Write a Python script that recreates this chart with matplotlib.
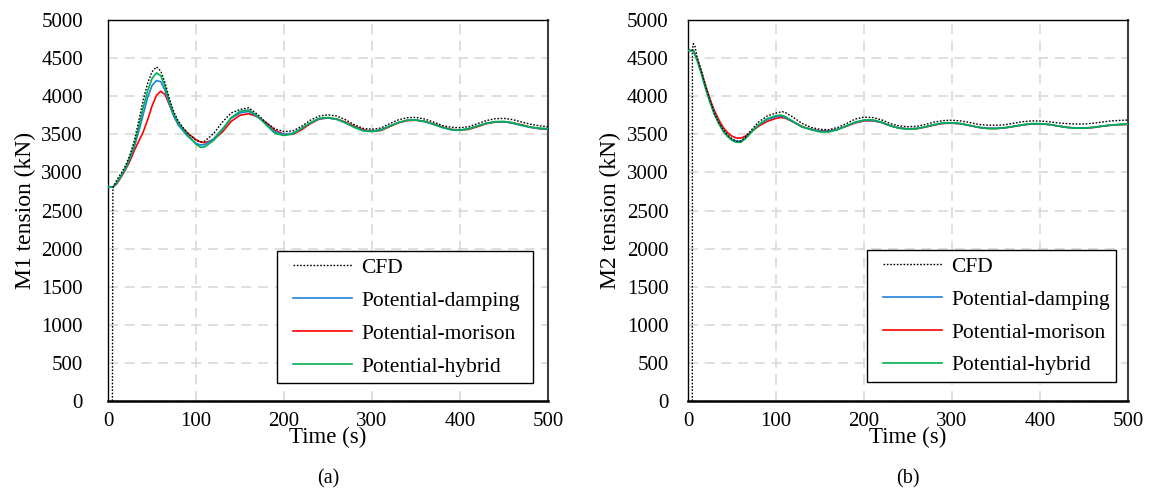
import numpy as np
import matplotlib
matplotlib.use("Agg")
import matplotlib.pyplot as plt
from matplotlib.lines import Line2D
from matplotlib.legend_handler import HandlerLine2D

plt.rcParams['font.family'] = ['Liberation Serif', 'DejaVu Serif']

# ---- data (time in s, tension in kN) ----
t_pot = [0, 6, 10, 15, 20, 25, 30, 35, 40, 45, 50, 55, 60, 65, 70, 75, 80, 90, 100, 105, 110,
         120, 130, 140, 150, 160, 170, 180, 190, 200, 210, 220, 230, 240, 250, 260, 270, 280,
         290, 300, 310, 320, 330, 340, 350, 360, 370, 380, 390, 400, 410, 420, 430, 440, 450,
         460, 470, 480, 490, 500]

# panel (a): M1
m1_damping = [2810, 2810, 2860, 2950, 3050, 3180, 3340, 3540, 3760, 3980, 4140, 4205, 4190, 4070,
              3890, 3730, 3620, 3480, 3380, 3360, 3365, 3440, 3570, 3710, 3780, 3800, 3730,
              3630, 3530, 3500, 3515, 3580, 3650, 3705, 3715, 3695, 3650, 3595, 3550, 3540,
              3560, 3610, 3655, 3685, 3685, 3665, 3630, 3590, 3560, 3555, 3575, 3610, 3645,
              3665, 3665, 3645, 3615, 3590, 3575, 3570]
m1_morison = [2810, 2810, 2850, 2940, 3040, 3150, 3290, 3410, 3530, 3690, 3870, 4010, 4065, 4020,
              3880, 3740, 3640, 3520, 3430, 3400, 3390, 3430, 3530, 3670, 3750, 3770, 3730,
              3650, 3550, 3500, 3500, 3560, 3640, 3700, 3715, 3700, 3660, 3605, 3560, 3540,
              3550, 3600, 3650, 3680, 3685, 3670, 3635, 3595, 3565, 3555, 3565, 3600, 3640,
              3660, 3665, 3650, 3625, 3595, 3575, 3565]
m1_hybrid = [2810, 2810, 2870, 2960, 3060, 3200, 3370, 3600, 3850, 4070, 4230, 4305, 4270, 4120,
             3920, 3760, 3650, 3500, 3370, 3330, 3335, 3420, 3560, 3720, 3800, 3820, 3740,
             3620, 3510, 3485, 3505, 3575, 3650, 3710, 3720, 3700, 3650, 3590, 3545, 3535,
             3555, 3605, 3655, 3685, 3688, 3668, 3630, 3590, 3560, 3552, 3572, 3608, 3645,
             3665, 3668, 3650, 3620, 3595, 3580, 3575]

t_cfd = [5, 5.5, 10, 15, 20, 25, 30, 35, 40, 45, 50, 55, 60, 65, 70, 75, 80, 90, 100, 106, 110,
         120, 130, 140, 150, 160, 170, 180, 190, 200, 210, 220, 230, 240, 250, 260, 270, 280,
         290, 300, 310, 320, 330, 340, 350, 360, 370, 380, 390, 400, 410, 420, 430, 440, 450,
         460, 470, 480, 490, 500]
m1_cfd = [0, 2800, 2900, 2990, 3090, 3230, 3420, 3680, 3950, 4170, 4320, 4385, 4330, 4170, 3960,
          3790, 3670, 3520, 3420, 3400, 3410, 3510, 3660, 3780, 3825, 3848, 3760, 3650, 3570,
          3535, 3545, 3605, 3685, 3740, 3755, 3740, 3690, 3625, 3578, 3565, 3582, 3640, 3690,
          3718, 3722, 3700, 3660, 3615, 3592, 3586, 3600, 3640, 3680, 3705, 3709, 3692, 3662,
          3632, 3612, 3600]

# panel (b): M2
t_cfd_b = [4.9, 5, 6, 8, 10, 15, 20, 25, 30, 35, 40, 45, 50, 55, 60, 65, 70, 80, 90, 100, 107,
           110, 120, 130, 140, 150, 160, 170, 180, 190, 200, 210, 220, 230, 240, 250, 260, 270,
           280, 290, 300, 310, 320, 330, 340, 350, 360, 370, 380, 390, 400, 410, 420, 430, 440,
           450, 460, 470, 480, 490, 500]
m2_cfd = [0, 4600, 4690, 4650, 4530, 4340, 4130, 3950, 3780, 3660, 3560, 3490, 3440, 3410, 3410,
          3460, 3530, 3660, 3740, 3780, 3796, 3790, 3720, 3640, 3590, 3565, 3560, 3590, 3640,
          3700, 3725, 3720, 3690, 3640, 3610, 3600, 3605, 3630, 3660, 3680, 3685, 3675, 3655,
          3630, 3620, 3618, 3625, 3645, 3665, 3675, 3675, 3665, 3650, 3640, 3635, 3635, 3645,
          3660, 3675, 3682, 3687]
m2_damping = [4600, 4600, 4490, 4310, 4110, 3930, 3770, 3650, 3550, 3480, 3430, 3410, 3410, 3450,
              3505, 3565, 3620, 3695, 3730, 3740, 3725, 3660, 3595, 3565, 3540, 3540, 3565,
              3610, 3655, 3680, 3682, 3655, 3610, 3580, 3572, 3576, 3598, 3625, 3645, 3648,
              3638, 3615, 3592, 3578, 3578, 3586, 3604, 3622, 3636, 3637, 3628, 3610, 3592,
              3583, 3583, 3592, 3606, 3620, 3628, 3632]
m2_morison = [4600, 4600, 4500, 4330, 4140, 3960, 3810, 3690, 3590, 3520, 3475, 3450, 3450, 3475,
              3515, 3560, 3605, 3670, 3710, 3720, 3715, 3660, 3600, 3565, 3545, 3545, 3565,
              3605, 3650, 3675, 3678, 3655, 3612, 3582, 3572, 3574, 3595, 3622, 3642, 3646,
              3638, 3616, 3592, 3578, 3576, 3584, 3602, 3622, 3636, 3638, 3628, 3610, 3592,
              3582, 3580, 3588, 3604, 3618, 3626, 3630]
m2_hybrid = [4600, 4600, 4480, 4300, 4100, 3920, 3760, 3640, 3540, 3470, 3420, 3395, 3395, 3440,
             3500, 3565, 3625, 3705, 3745, 3752, 3735, 3665, 3595, 3560, 3530, 3530, 3560,
             3610, 3660, 3688, 3690, 3660, 3612, 3580, 3570, 3575, 3600, 3628, 3650, 3652,
             3640, 3616, 3592, 3576, 3576, 3586, 3605, 3625, 3640, 3641, 3630, 3610, 3591,
             3580, 3580, 3590, 3606, 3621, 3630, 3635]

legend_labels = ['CFD', 'Potential-damping', 'Potential-morison', 'Potential-hybrid']
c_blue = '#1F82D8'
c_red = '#FF0000'
c_green = '#00B050'

fig = plt.figure(figsize=(11.5, 4.97), dpi=100)
ax1 = fig.add_axes([108/1150, 96/497, 440/1150, 381/497])
ax2 = fig.add_axes([688/1150, 96/497, 440/1150, 381/497])


def panel(ax, tc, cfd, damp, mor, hyb, ylab, tag, leg_box, ypad):
    ax.plot(tc, cfd, color='black', lw=1.0, ls=(0, (1.2, 1.2)), label=legend_labels[0], zorder=5)
    ax.plot(t_pot, damp, color=c_blue, lw=1.2, label=legend_labels[1], zorder=3)
    ax.plot(t_pot, mor, color=c_red, lw=1.2, label=legend_labels[2], zorder=2)
    ax.plot(t_pot, hyb, color=c_green, lw=1.2, label=legend_labels[3], zorder=4)
    ax.set_xlim(0, 500)
    ax.set_ylim(0, 5000)
    ax.set_xticks(np.arange(0, 501, 100))
    ax.set_yticks(np.arange(0, 5001, 500))
    ax.tick_params(length=0, labelsize=15)
    ax.tick_params(axis='x', pad=8)
    ax.tick_params(axis='y', pad=ypad)
    ax.grid(True, color='#D9D9D9', ls=(0, (6, 4)), lw=1.2)
    ax.set_axisbelow(True)
    for s in ax.spines.values():
        s.set_color('black')
        s.set_linewidth(1.0)
    ax.spines['bottom'].set_linewidth(1.8)
    ax.spines['right'].set_color('#404040')
    ax.spines['right'].set_linewidth(1.5)
    ax.set_xlabel('Time (s)', fontsize=16.5, labelpad=-3)
    ax.set_ylabel(ylab, fontsize=17, labelpad=4)
    ax.text(0.5, -0.18, tag, transform=ax.transAxes, ha='center', va='top', fontsize=14.5)
    leg = ax.legend(loc='lower left', bbox_to_anchor=leg_box, mode='expand', borderaxespad=0,
                    fontsize=15.5, handlelength=3.2, handletextpad=0.42, labelspacing=0.6,
                    fancybox=False, framealpha=1, edgecolor='black', borderpad=0.3,
                    handler_map={Line2D: HandlerLine2D(xpad=0.45)})
    leg.get_frame().set_linewidth(1.0)


panel(ax1, t_cfd, m1_cfd, m1_damping, m1_morison, m1_hybrid, 'M1 tension (kN)', '(a)',
      (0.384, 0.047, 0.582, 0.352), 18)
panel(ax2, t_cfd_b, m2_cfd, m2_damping, m2_morison, m2_hybrid, 'M2 tension (kN)', '(b)',
      (0.407, 0.05, 0.566, 0.341), 14)

fig.savefig('out.png', dpi=100)
